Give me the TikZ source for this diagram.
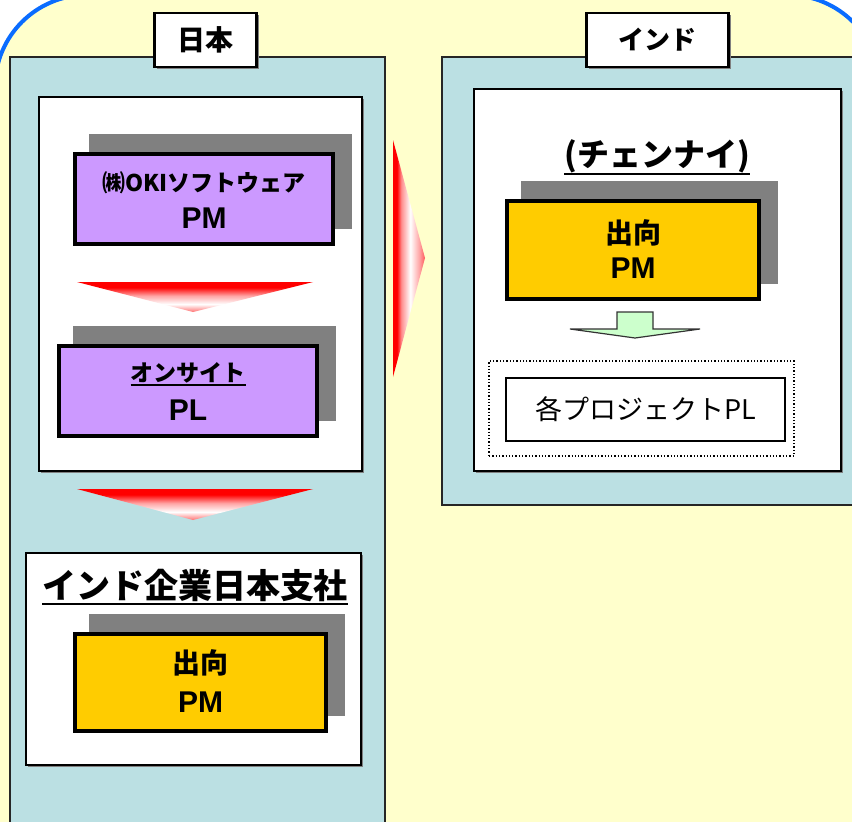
\documentclass[tikz,border=0pt]{standalone}
\usepackage{fontspec}
\setmainfont{Noto Sans CJK JP}
\newfontfamily\latf{Liberation Sans}
\usetikzlibrary{shadows,calc}
\definecolor{bgyellow}{HTML}{FFFFCC}
\definecolor{panelteal}{HTML}{BBE0E3}
\definecolor{boxpurple}{HTML}{CC99FF}
\definecolor{boxgold}{HTML}{FFCC00}
\definecolor{shadowgray}{HTML}{808080}
\definecolor{arrowgreen}{HTML}{CCFFCC}
\definecolor{frameblue}{HTML}{0A6CFF}
\pgfdeclareverticalshading{reddown}{100bp}{color(0bp)=(red!55); color(25bp)=(red!55); color(38bp)=(white); color(52bp)=(red!35); color(66bp)=(red); color(100bp)=(red)}
\pgfdeclarehorizontalshading{redright}{100bp}{color(0bp)=(red); color(25bp)=(red); color(31bp)=(red); color(38bp)=(red!45); color(52bp)=(white); color(66bp)=(red!35); color(75bp)=(red!65); color(100bp)=(red!65)}
\tikzset{
  panel/.style={draw=black!85, line width=1.5pt, fill=panelteal, inner sep=0pt, outer sep=0pt},
  tabbox/.style={draw=black, line width=2.5pt, fill=white, inner sep=0pt, outer sep=0pt,
     general shadow={fill=shadowgray, shadow xshift=2pt, shadow yshift=-2pt}},
  whitebox/.style={draw=black, line width=2pt, fill=white, inner sep=0pt, outer sep=0pt,
     general shadow={fill=shadowgray, shadow xshift=1.5pt, shadow yshift=-1.5pt}},
  card/.style={draw=black, line width=4pt, inner sep=0pt, outer sep=0pt,
     general shadow={fill=shadowgray, draw=shadowgray, line width=5.5pt, shadow xshift=16.5pt, shadow yshift=17.5pt}},
  purplecard/.style={card, fill=boxpurple},
  goldcard/.style={card, fill=boxgold},
  lbl/.style={inner sep=0pt, outer sep=0pt},
  ulline/.style={line width=2pt},
  greenarrow/.style={draw=black!80, line width=1.2pt, fill=arrowgreen},
}
\begin{document}
\begin{tikzpicture}[x=1pt,y=-1pt]
\useasboundingbox (0,0) rectangle (852,822);
\begin{scope}
\clip (0,0) rectangle (852,822);
\fill[white] (0,0) rectangle (852,822);
\draw[frameblue, line width=4pt, fill=bgyellow, rounded corners=92pt] (-5,-5) rectangle (880,900);

% panels
\node[panel, minimum width=375pt, minimum height=843pt] (jppanel) at (197.5,478.5) {};
\node[panel, minimum width=428pt, minimum height=448pt] (inpanel) at (656,281) {};

% tabs
\node[tabbox, minimum width=102pt, minimum height=54pt,
      font=\fontsize{28}{32}\selectfont\bfseries] (jptab) at (205.5,40) {日本};
\node[tabbox, minimum width=142pt, minimum height=54pt,
      font=\fontsize{26}{30}\selectfont\bfseries] (intab) at (657.5,40) {インド};

% left upper white box
\node[whitebox, minimum width=323pt, minimum height=374pt] (lbox1) at (200.5,284) {};
\node[purplecard, minimum width=258pt, minimum height=90pt] (p1) at (204,199) {};
\node[lbl, font=\fontsize{23}{26}\selectfont\bfseries] (p1a) at ($(p1)+(0,-16)$) {㈱OKIソフトウェア};
\node[lbl, font=\fontsize{30}{34}\selectfont\latf\bfseries] (p1b) at ($(p1)+(0,19)$) {PM};

\shade[shading=reddown] (77,282) -- (313,282) -- (193,312) -- cycle;

\node[purplecard, minimum width=258pt, minimum height=90pt] (p2) at (188,391) {};
\node[lbl, font=\fontsize{23}{26}\selectfont\bfseries] (p2a) at ($(p2)+(0,-18)$) {オンサイト};
\draw[ulline] ([yshift=-2pt]p2a.south west) -- ([yshift=-2pt]p2a.south east);
\node[lbl, font=\fontsize{30}{34}\selectfont\latf\bfseries] (p2b) at ($(p2)+(0,19)$) {PL};

\shade[shading=reddown] (77,489) -- (313,489) -- (193,520) -- cycle;

% left lower white box
\node[whitebox, minimum width=335pt, minimum height=212pt] (lbox2) at (193.5,659) {};
\node[lbl, font=\fontsize{34}{38}\selectfont\bfseries] (ltitle) at (195,586) {インド企業日本支社};
\draw[ulline] ([yshift=-2pt]ltitle.south west) -- ([yshift=-2pt]ltitle.south east);
\node[goldcard, minimum width=251pt, minimum height=97pt] (g1) at (200.5,682.5) {};
\node[lbl, font=\fontsize{28}{32}\selectfont\bfseries] (g1a) at ($(g1)+(0,-20)$) {出向};
\node[lbl, font=\fontsize{30}{34}\selectfont\latf\bfseries] (g1b) at ($(g1)+(0,20)$) {PM};

% red arrow to the right
\shade[shading=redright] (393,140) -- (425,258) -- (393,377) -- cycle;

% right white box
\node[whitebox, minimum width=367pt, minimum height=382pt] (rbox) at (657.5,280) {};
\node[lbl, font=\fontsize{32}{36}\selectfont\bfseries] (rtitle) at (657,156) {(チェンナイ)};
\draw[ulline] ([yshift=-1pt]rtitle.south west) -- ([yshift=-1pt]rtitle.south east);
\node[goldcard, minimum width=252pt, minimum height=98pt] (g2) at (633,250) {};
\node[lbl, font=\fontsize{28}{32}\selectfont\bfseries] (g2a) at ($(g2)+(0,-17)$) {出向};
\node[lbl, font=\fontsize{30}{34}\selectfont\latf\bfseries] (g2b) at ($(g2)+(0,18)$) {PM};

\draw[greenarrow] (617,312) -- (653,312) -- (653,329) -- (700,329) -- (635,338) -- (570,329) -- (617,329) -- cycle;

\node[draw=black, dotted, line width=1.3pt, minimum width=305pt, minimum height=95pt, inner sep=0pt] (dotbox) at (641.5,408.5) {};
\node[draw=black, line width=2pt, fill=white, minimum width=279pt, minimum height=63pt, inner sep=0pt,
      font=\fontsize{27}{30}\selectfont] (plbox) at (645.5,409.5) {各プロジェクトPL};
\end{scope}
\end{tikzpicture}
\end{document}
